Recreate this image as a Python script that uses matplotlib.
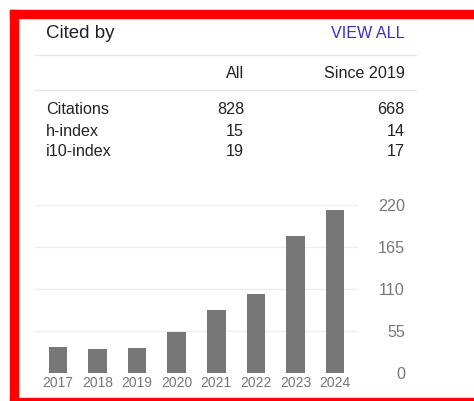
import matplotlib
matplotlib.use("Agg")
import matplotlib.pyplot as plt
from matplotlib.patches import Rectangle

plt.rcParams['font.family'] = ['Liberation Sans', 'DejaVu Sans']

# 数据
years = ['2017', '2018', '2019', '2020', '2021', '2022', '2023', '2024']
citations = [34, 32, 33, 54, 83, 104, 180, 214]
y_ticks = [0, 55, 110, 165, 220]

row_names = ['Citations', 'h-index', 'i10-index']
col_names = ['All', 'Since 2019']
all_values = ['828', '15', '19']
since_values = ['668', '14', '17']

W, H = 474, 401


def px(x, y):  # 像素坐标 -> figure坐标
    return x / W, 1 - y / H


fig = plt.figure(figsize=(W / 100, H / 100), dpi=100)
fig.patch.set_facecolor('white')

# 红色边框
for (x0, y0, x1, y1) in [(10, 10, W, 18), (10, 10, 18, H), (10, 398, W, H)]:
    fig.patches.append(Rectangle((x0 / W, 1 - y1 / H), (x1 - x0) / W, (y1 - y0) / H,
                                 transform=fig.transFigure, color='#ff0000', zorder=10))

dark = '#222222'
fs = 11.6
fig.text(*px(46, 33), 'Cited by', fontsize=13.5, color=dark, va='center', ha='left')
fig.text(*px(405, 33), 'VIEW ALL', fontsize=fs, color='#3b2fc0', va='center', ha='right')

for yl in (55, 89.5):
    fig.add_artist(plt.Line2D([35 / W, 416 / W], [1 - yl / H, 1 - yl / H],
                              transform=fig.transFigure, color='#e6e6e6', lw=1))

fig.text(*px(244, 73), col_names[0], fontsize=fs, color=dark, va='center', ha='right')
fig.text(*px(405, 73), col_names[1], fontsize=fs, color=dark, va='center', ha='right')

for i, name in enumerate(row_names):
    y = 110 + i * 21
    fig.text(*px(46, y), name, fontsize=fs, color=dark, va='center', ha='left')
    fig.text(*px(244, y), all_values[i], fontsize=fs, color=dark, va='center', ha='right')
    fig.text(*px(405, y), since_values[i], fontsize=fs, color=dark, va='center', ha='right')

# 柱状图
ax = fig.add_axes([35 / W, 1 - 373.3 / H, (358 - 35) / W, (373.3 - 205) / H])
x = range(len(years))
ax.bar(x, citations, width=0.47, color='#777777', zorder=3)
ax.set_xlim(-0.58, len(years) - 0.42)
ax.set_ylim(0, 220)
ax.set_yticks(y_ticks)
ax.set_xticks(list(x))
ax.set_xticklabels(years)
ax.grid(axis='y', color='#eeeeee', lw=1, zorder=0)
ax.set_axisbelow(True)
for s in ax.spines.values():
    s.set_visible(False)
ax.tick_params(axis='y', length=0, labelleft=False, labelright=True, pad=33.8,
               labelsize=11.6, labelcolor='#777777')
ax.tick_params(axis='x', length=0, pad=2, labelsize=10, labelcolor='#777777')
for lab in ax.get_yticklabels():
    lab.set_ha('right')

fig.savefig('out.png', dpi=100)
